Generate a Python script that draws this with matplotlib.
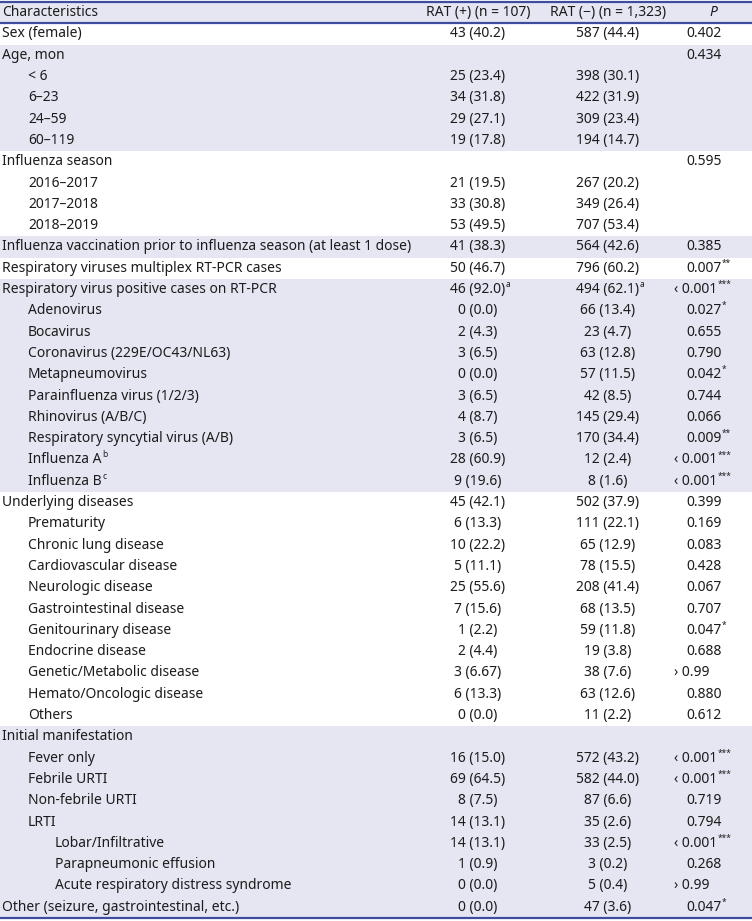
import matplotlib
matplotlib.use('Agg')
import matplotlib.pyplot as plt
from matplotlib.patches import Rectangle

plt.rcParams['font.family'] = ['Noto Sans', 'DejaVu Sans']

header = ['Characteristics', 'RAT (+) (n = 107)', 'RAT (\u2212) (n = 1,323)', 'P']

labels = ['Sex (female)',
          'Age, mon', '< 6', '6\u201323', '24\u201359', '60\u2013119',
          'Influenza season', '2016\u20132017', '2017\u20132018', '2018\u20132019',
          'Influenza vaccination prior to influenza season (at least 1 dose)',
          'Respiratory viruses multiplex RT-PCR cases',
          'Respiratory virus positive cases on RT-PCR', 'Adenovirus', 'Bocavirus',
          'Coronavirus (229E/OC43/NL63)', 'Metapneumovirus', 'Parainfluenza virus (1/2/3)',
          'Rhinovirus (A/B/C)', 'Respiratory syncytial virus (A/B)',
          'Influenza A', 'Influenza B',
          'Underlying diseases', 'Prematurity', 'Chronic lung disease', 'Cardiovascular disease',
          'Neurologic disease', 'Gastrointestinal disease', 'Genitourinary disease',
          'Endocrine disease', 'Genetic/Metabolic disease', 'Hemato/Oncologic disease', 'Others',
          'Initial manifestation', 'Fever only', 'Febrile URTI', 'Non-febrile URTI', 'LRTI',
          'Lobar/Infiltrative', 'Parapneumonic effusion', 'Acute respiratory distress syndrome',
          'Other (seizure, gastrointestinal, etc.)']
label_sup = {20: 'b', 21: 'c'}

levels = [0,
          0, 1, 1, 1, 1,
          0, 1, 1, 1,
          0,
          0,
          0, 1, 1, 1, 1, 1, 1, 1, 1, 1,
          0, 1, 1, 1, 1, 1, 1, 1, 1, 1, 1,
          0, 1, 1, 1, 1, 2, 2, 2,
          0]

# group sizes, alternating white / shaded
group_sizes = [1, 5, 4, 1, 1, 10, 11, 9]

rat_pos = ['43 (40.2)', '', '25 (23.4)', '34 (31.8)', '29 (27.1)', '19 (17.8)',
           '', '21 (19.5)', '33 (30.8)', '53 (49.5)',
           '41 (38.3)', '50 (46.7)',
           '46 (92.0)', '0 (0.0)', '2 (4.3)', '3 (6.5)', '0 (0.0)', '3 (6.5)',
           '4 (8.7)', '3 (6.5)', '28 (60.9)', '9 (19.6)',
           '45 (42.1)', '6 (13.3)', '10 (22.2)', '5 (11.1)', '25 (55.6)', '7 (15.6)',
           '1 (2.2)', '2 (4.4)', '3 (6.67)', '6 (13.3)', '0 (0.0)',
           '', '16 (15.0)', '69 (64.5)', '8 (7.5)', '14 (13.1)', '14 (13.1)', '1 (0.9)',
           '0 (0.0)', '0 (0.0)']

rat_neg = ['587 (44.4)', '', '398 (30.1)', '422 (31.9)', '309 (23.4)', '194 (14.7)',
           '', '267 (20.2)', '349 (26.4)', '707 (53.4)',
           '564 (42.6)', '796 (60.2)',
           '494 (62.1)', '66 (13.4)', '23 (4.7)', '63 (12.8)', '57 (11.5)',
           '42 (8.5)', '145 (29.4)', '170 (34.4)', '12 (2.4)', '8 (1.6)',
           '502 (37.9)', '111 (22.1)', '65 (12.9)', '78 (15.5)', '208 (41.4)', '68 (13.5)',
           '59 (11.8)', '19 (3.8)', '38 (7.6)', '63 (12.6)', '11 (2.2)',
           '', '572 (43.2)', '582 (44.0)', '87 (6.6)', '35 (2.6)', '33 (2.5)', '3 (0.2)',
           '5 (0.4)', '47 (3.6)']
rat_sup = {12: 'a'}

p_vals = ['0.402', '0.434', '', '', '', '',
          '0.595', '', '', '',
          '0.385', '0.007', '< 0.001', '0.027', '0.655', '0.790', '0.042', '0.744',
          '0.066', '0.009', '< 0.001', '< 0.001',
          '0.399', '0.169', '0.083', '0.428', '0.067', '0.707', '0.047', '0.688',
          '> 0.99', '0.880', '0.612',
          '', '< 0.001', '< 0.001', '0.719', '0.794', '< 0.001', '0.268', '> 0.99', '0.047']

p_stars = ['', '', '', '', '', '',
           '', '', '', '',
           '', '**', '***', '*', '', '', '*', '',
           '', '**', '***', '***',
           '', '', '', '', '', '', '*', '',
           '', '', '',
           '', '***', '***', '', '', '***', '', '', '*']

W, H = 752, 921
fig = plt.figure(figsize=(W / 100, H / 100), dpi=100)
ax = fig.add_axes([0, 0, 1, 1])
ax.set_xlim(0, W)
ax.set_ylim(H, 0)
ax.axis('off')
renderer = fig.canvas.get_renderer()

top = 2.0
rh = 21.3
fs = 10.0
txt = '#1c1c1c'
shade = '#e6e6f3'
line_c = '#3d4c9c'
indent = [2, 28, 55]
x_pos, x_neg, x_p = 478, 608, 686


def put(x, y, s, ha='left', sup='', **kw):
    t = ax.text(x, y, s, fontsize=fs, color=txt, va='center', ha=ha, **kw)
    if sup:
        bb = t.get_window_extent(renderer).transformed(ax.transData.inverted())
        x1 = max(bb.x0, bb.x1)
        ax.text(x1 + 0.5, y - 5, sup, fontsize=fs * 0.6, color=txt, va='center', ha='left')
    return t


# shaded bands
ax.add_patch(Rectangle((0, top), W, rh, color=shade, lw=0))
r = 1
for g, size in enumerate(group_sizes):
    if g % 2 == 1:
        ax.add_patch(Rectangle((0, top + rh * r), W, rh * size, color=shade, lw=0))
    r += size

yc = top + rh / 2
put(indent[0], yc, header[0])
put(x_pos, yc, header[1], ha='center')
put(x_neg, yc, header[2], ha='center')
put(713, yc, header[3], ha='center', style='italic')

for i, lab in enumerate(labels):
    yc = top + rh * (i + 1) + rh / 2
    put(indent[levels[i]], yc, lab, sup=label_sup.get(i, ''))
    put(x_pos, yc, rat_pos[i], ha='center', sup=rat_sup.get(i, ''))
    put(x_neg, yc, rat_neg[i], ha='center', sup=rat_sup.get(i, ''))
    if p_vals[i]:
        p = p_vals[i].replace('<', '\u2039').replace('>', '\u203a')
        xp = x_p - 12 if p_vals[i][0] in '<>' else x_p
        put(xp, yc, p, sup=p_stars[i])

n = len(labels) + 1
for yl in [top, top + rh, top + rh * n]:
    ax.plot([0, W], [yl, yl], color=line_c, lw=1.6)

fig.savefig('out.png', dpi=100)
